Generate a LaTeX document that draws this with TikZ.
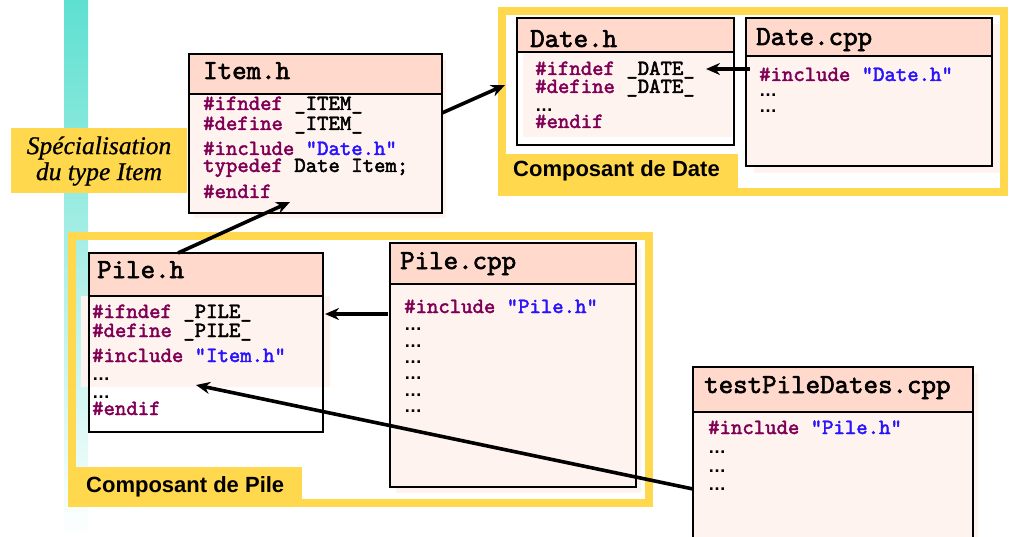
\documentclass[tikz,border=0pt]{standalone}
\usepackage{fontspec}
\newfontfamily\labelfont{Liberation Sans}
\newfontfamily\notefont[FakeBold=0.8]{Liberation Serif}
\newfontfamily\codefont[FakeBold=2.2]{lmmono10-regular.otf}
\usetikzlibrary{arrows.meta,calc}

\definecolor{headfill}{RGB}{255,217,204}
\definecolor{bodyfill}{RGB}{255,243,240}
\definecolor{compyellow}{RGB}{255,216,77}
\definecolor{kwcol}{RGB}{127,0,85}
\definecolor{strcol}{RGB}{40,20,255}
\definecolor{barteal}{RGB}{94,224,208}

\newcommand\kwd[1]{\textcolor{kwcol}{#1}}
\newcommand\strg[1]{\textcolor{strcol}{#1}}
\newcommand\elide{\smash{\labelfont\bfseries\fontsize{18}{20}\selectfont …}}

% a source file: bordered box with a coloured title band
% #1 extra style, #2 name, #3 x, #4 y, #5 width, #6 height, #7 y of the band's lower edge
\newcommand\filebox[7][]{%
  \node[filebox, minimum width=#5pt, minimum height=#6pt, #1] (#2) at (#3,#4) {};
  \fill[headfill] ($(#2.north west)+(1.4,1.4)$) rectangle ($(#2.east |- 0,#7)+(-1.4,0)$);
  \draw[line width=2.5pt] (#2.west |- 0,#7) -- (#2.east |- 0,#7);
}

\begin{document}
\begin{tikzpicture}[x=1pt,y=-1pt,
  filebox/.style={draw=black, line width=2.8pt, fill=bodyfill, anchor=north west,
    outer sep=0pt, inner sep=0pt},
  framebox/.style={draw=compyellow, line width=8pt, anchor=north west,
    outer sep=0pt, inner sep=0pt},
  code/.style={anchor=base west, inner sep=0pt,
    font=\codefont\fontsize{21.7}{23}\selectfont},
  title/.style={anchor=base west, inner sep=0pt,
    font=\codefont\fontsize{27.6}{29}\selectfont},
  comp/.style={anchor=base west, inner sep=0pt,
    font=\labelfont\bfseries\fontsize{22}{24}\selectfont},
  arr/.style={line width=3.6pt, -{Stealth[length=14pt,width=12pt]}},
  shadow/.style={fill=bodyfill}]

\useasboundingbox (0,0) rectangle (1016,537);
\clip (0,0) rectangle (1016,537);

% vertical band on the left
\shade[top color=barteal, bottom color=white] (64,0) rectangle (88,537);

% component frames
\node[framebox, minimum width=502pt, minimum height=181pt] (datecomp) at (502,11) {};
\fill[compyellow] (502,154) rectangle (738,192);
\node[comp] (datelabel) at (513,177) {Composant de Date};

\node[framebox, minimum width=577pt, minimum height=267pt] (pilecomp) at (72,236) {};
\fill[compyellow] (72,467) rectangle (302,503);
\node[comp] (pilelabel) at (86,492) {Composant de Pile};

% side note
\node[fill=compyellow, minimum width=176pt, minimum height=65pt, inner sep=0pt,
  align=center, font=\notefont\itshape\fontsize{25.5}{26}\selectfont] (note) at (99,161)
  {Spécialisation\\du type Item};

% Item.h
\fill[shadow] (194,60) rectangle (446,218);
\filebox{itemh}{189}{54}{253}{159}{94}
\node[title] (itemht) at (203,79) {Item.h};
\node[code] (ih1) at (203,110) {\kwd{\#ifndef} \_ITEM\_};
\node[code] (ih2) at (203,130) {\kwd{\#define} \_ITEM\_};
\node[code] (ih3) at (203,155) {\kwd{\#include} \strg{"Date.h"}};
\node[code] (ih4) at (203,172) {\kwd{typedef} Date Item;};
\node[code] (ih5) at (203,198) {\kwd{\#endif}};

% Date.h
\fill[bodyfill] (523,52) rectangle (732,137);
\filebox[fill=none]{dateh}{517}{18}{217}{127}{52}
\node[title] (dateht) at (530,47) {Date.h};
\node[code] (dh1) at (535,75) {\kwd{\#ifndef} \_DATE\_};
\node[code] (dh2) at (535,93) {\kwd{\#define} \_DATE\_};
\node[code] (dh3) at (535,112) {\elide};
\node[code] (dh4) at (535,128) {\kwd{\#endif}};

% Date.cpp
\fill[shadow] (754,24) rectangle (1000,173);
\filebox{datecpp}{746}{18}{246}{148}{56}
\node[title] (datecppt) at (756,45) {Date.cpp};
\node[code] (dc1) at (759,81) {\kwd{\#include} \strg{"Date.h"}};
\node[code] (dc2) at (759,97) {\elide};
\node[code] (dc3) at (759,113) {\elide};

% Pile.h
\fill[bodyfill] (81,296) rectangle (330,387);
\filebox[fill=none]{pileh}{89}{253}{234}{179}{296}
\node[title] (pileht) at (97,278) {Pile.h};
\node[code] (ph1) at (92,318) {\kwd{\#ifndef} \_PILE\_};
\node[code] (ph2) at (92,337) {\kwd{\#define} \_PILE\_};
\node[code] (ph3) at (92,362) {\kwd{\#include} \strg{"Item.h"}};
\node[code] (ph4) at (92,380) {\elide};
\node[code] (ph5) at (92,398) {\elide};
\node[code] (ph6) at (92,415) {\kwd{\#endif}};

% Pile.cpp
\fill[shadow] (396,249) rectangle (641,493);
\filebox{pilecpp}{390}{243}{246}{244}{284}
\node[title] (pilecppt) at (400,269) {Pile.cpp};
\node[code] (pc1) at (404,313) {\kwd{\#include} \strg{"Pile.h"}};
\node[code] (pc2) at (404,330) {\elide};
\node[code] (pc3) at (404,347) {\elide};
\node[code] (pc4) at (404,363) {\elide};
\node[code] (pc5) at (404,379) {\elide};
\node[code] (pc6) at (404,396) {\elide};
\node[code] (pc7) at (404,412) {\elide};

% testPileDates.cpp
\fill[shadow] (699,373) rectangle (978,560);
\filebox{testcpp}{693}{367}{280}{200}{412}
\node[title] (testcppt) at (704,393) {testPileDates.cpp};
\node[code] (tc1) at (708,434) {\kwd{\#include} \strg{"Pile.h"}};
\node[code] (tc2) at (708,453) {\elide};
\node[code] (tc3) at (708,472) {\elide};
\node[code] (tc4) at (708,490) {\elide};

% inclusion links
\draw[arr] ([yshift=20.5pt]itemh.east) -- ([xshift=3pt,yshift=16.5pt]datecomp.west);
\draw[arr] ([xshift=4pt,yshift=23pt]datecpp.west) -- ([xshift=-28pt,yshift=12.5pt]dateh.east);
\draw[arr] ([xshift=-28pt]pileh.north) -- ([xshift=-25.5pt,yshift=11pt]itemh.south);
\draw[arr] ([xshift=-2pt,yshift=51pt]pilecpp.west) -- ([xshift=2pt,yshift=28.5pt]pileh.east);
\draw[arr] ([yshift=-22pt]testcpp.west) -- ([xshift=-10pt,yshift=-42.5pt]pileh.center);

\end{tikzpicture}
\end{document}
